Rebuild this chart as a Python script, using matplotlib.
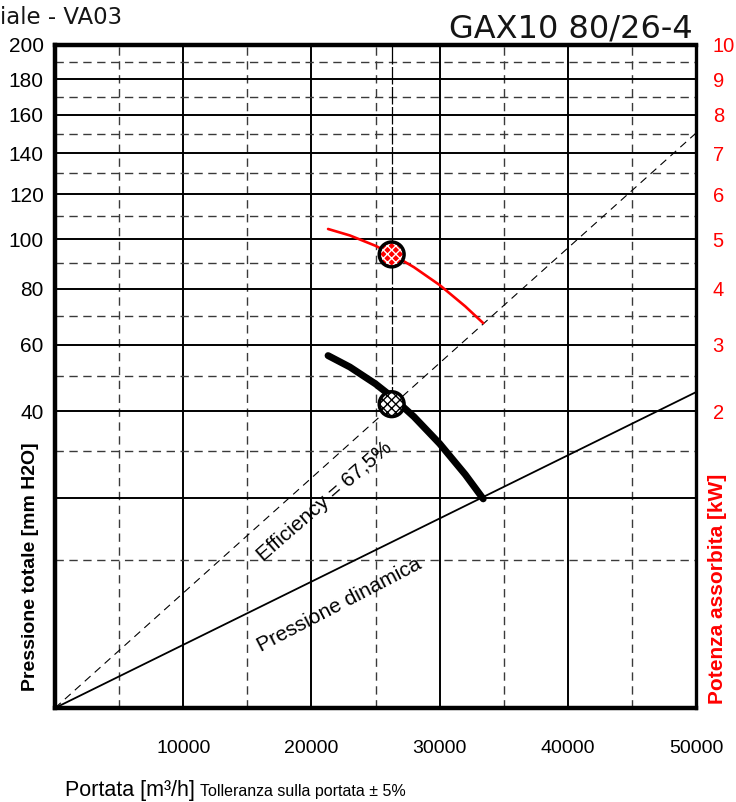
import numpy as np
import matplotlib
matplotlib.use("Agg")
matplotlib.rcParams.update({
    'font.family': 'sans-serif',
    'font.sans-serif': ['Liberation Sans', 'Arial', 'DejaVu Sans'],
})
import matplotlib.pyplot as plt

# ── Data ─────────────────────────────────────────────────────────────────────
flow_p = [21300, 23000, 25000, 26300, 28000, 30000, 32000, 33400]   # m3/h
pressure = [56.5, 52.9, 47.8, 44.0, 38.6, 31.8, 24.8, 19.9]          # mm H2O

flow_w = [21300, 23000, 25000, 26300, 28000, 30000, 32000, 33400]   # m3/h
power = [5.22, 5.08, 4.86, 4.68, 4.42, 4.07, 3.67, 3.37]            # kW

duty_flow = 26260
duty_pressure = 42.0
duty_power = 4.68

eff_line_q = [0, 50000]
eff_line_p = [0, 150.4]
dyn_line_q = [0, 50000]
dyn_line_p = [0, 45.4]

x_ticks = [10000, 20000, 30000, 40000, 50000]
y_ticks = [40, 60, 80, 100, 120, 140, 160, 180, 200]
y2_ticks = [2, 3, 4, 5, 6, 7, 8, 9, 10]

RED = "#FF0000"
GRID_D = "#3a3a3a"
NARROW = ['Liberation Sans Narrow', 'Liberation Sans']


def sqrt_scale(a):
    a.set_yscale('function', functions=(lambda v: np.sqrt(np.clip(v, 0, None)), np.square))


fig = plt.figure(figsize=(7.36, 8.02), dpi=100)
ax = fig.add_axes([0.0747, 0.1172, 0.8710, 0.8267])
sqrt_scale(ax)
ax.set_xlim(0, 50000)
ax.set_ylim(0, 200)

# grid
for q in range(5000, 50000, 10000):
    ax.axvline(q, color=GRID_D, lw=1.0, ls=(0, (6, 4)), zorder=1)
for q in range(10000, 50000, 10000):
    ax.axvline(q, color='black', lw=1.4, zorder=1)
for p in range(10, 200, 20):
    ax.axhline(p, color=GRID_D, lw=1.0, ls=(0, (6, 4)), zorder=1)
for p in range(20, 200, 20):
    ax.axhline(p, color='black', lw=1.4, zorder=1)

# duty point vertical
ax.plot([duty_flow, duty_flow], [duty_pressure, 200], color='black', lw=0.9,
        ls=(0, (14, 2)), zorder=1)

# system lines
ax.plot(eff_line_q, eff_line_p, color='black', lw=0.8, ls=(0, (7, 5)), zorder=2)
ax.plot(dyn_line_q, dyn_line_p, color='black', lw=1.3, zorder=2)

# pressure curve
ax.plot(flow_p, pressure, color='black', lw=5, solid_capstyle='round', zorder=3)
ax.scatter([duty_flow], [duty_pressure], s=320, facecolor='white',
           edgecolor='black', hatch='xxxx', linewidth=0, zorder=5)
ax.scatter([duty_flow], [duty_pressure], s=320, facecolor='none',
           edgecolor='black', linewidth=2.5, zorder=6)

ax.set_xticks(x_ticks)
ax.set_yticks(y_ticks)
ax.set_xticklabels([str(v) for v in x_ticks], family=NARROW)
ax.set_yticklabels([str(v) for v in y_ticks])
ax.tick_params(axis='x', length=0, pad=23, labelsize=14)
ax.tick_params(axis='y', length=0, pad=8, labelsize=15)
ax.minorticks_off()

for side, w in [('left', 3.2), ('bottom', 3.2), ('top', 3.2), ('right', 2.4)]:
    ax.spines[side].set_linewidth(w)

# power axis
ax2 = ax.twinx()
sqrt_scale(ax2)
ax2.set_ylim(0, 10)
ax2.plot(flow_w, power, color=RED, lw=1.9, solid_capstyle='round', zorder=3)
ax2.scatter([duty_flow], [duty_power], s=320, facecolor=RED,
            edgecolor='white', hatch='xxxx', linewidth=0, zorder=5)
ax2.scatter([duty_flow], [duty_power], s=320, facecolor='none',
            edgecolor='black', linewidth=2.5, zorder=6)
ax2.set_yticks(y2_ticks)
ax2.set_yticklabels([str(v) for v in y2_ticks])
ax2.tick_params(axis='y', length=0, pad=12, labelsize=14.5, labelcolor=RED)
ax2.minorticks_off()
for s in ax2.spines.values():
    s.set_visible(False)

# line labels
ax.text(0.421, 0.312, "Efficiency = 67,5%", transform=ax.transAxes, rotation=41,
        ha='center', va='center', fontsize=15, rotation_mode='anchor')
ax.text(0.443, 0.155, "Pressione dinamica", transform=ax.transAxes, rotation=27.5,
        ha='center', va='center', fontsize=15, rotation_mode='anchor')

# titles and axis labels
fig.text(0.9416, 0.953, "GAX10 80/26-4", ha='right', va='baseline', fontsize=23,
         family='DejaVu Sans', color='#151515')
fig.text(0.0, 0.970, "iale - VA03", ha='left', va='baseline', fontsize=16.5,
         family='DejaVu Sans', color='#151515')
fig.text(0.041, 0.293, "Pressione totale [mm H2O]", rotation=90, ha='center',
         va='center', fontsize=14, fontweight='bold')
fig.text(0.9755, 0.266, "Potenza assorbita [kW]", rotation=90, ha='center',
         va='center', fontsize=15, fontweight='bold', color=RED)
fig.text(0.088, 0.008, "Portata [m³/h]", ha='left', va='baseline', fontsize=15.5)
fig.text(0.272, 0.008, "Tolleranza sulla portata ± 5%", ha='left', va='baseline',
         fontsize=11.5, family=NARROW)

fig.savefig("out.png", dpi=100, facecolor='white')
